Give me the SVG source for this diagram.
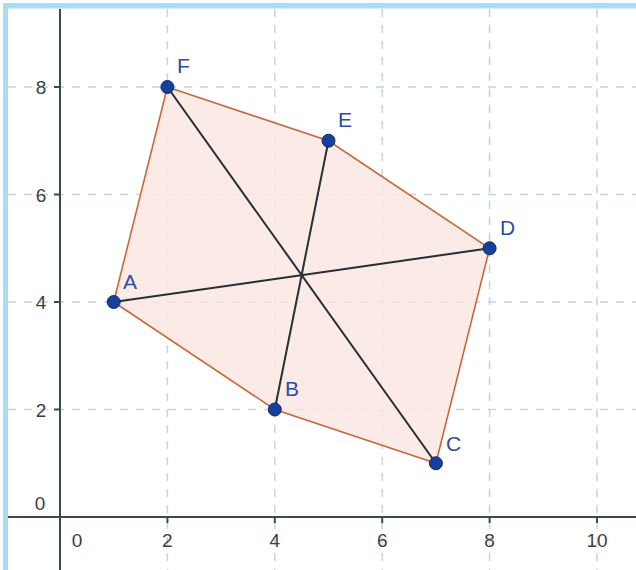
<svg xmlns="http://www.w3.org/2000/svg" width="636" height="570" viewBox="0 0 636 570">
<style>
.grid{stroke:#c9d3da;stroke-width:1.5;stroke-dasharray:8 8;fill:none}
.axis{stroke:#3a4a4f;stroke-width:2;fill:none}
.tick{font-family:"Liberation Sans",Arial,sans-serif;font-size:19px;fill:#3a3f42;text-anchor:middle}
.lbl{font-family:"Liberation Sans",Arial,sans-serif;font-size:21px;fill:#2a4ea6}
.poly{fill:#fbe6e2;fill-opacity:0.85;stroke:#c8673f;stroke-width:1.6}
.diag{stroke:#262f33;stroke-width:2}
.pt{fill:#17409a;stroke:#0d2a66;stroke-width:1}
.frame{fill:#a9dcf6}
</style>
<rect width="636" height="570" fill="#ffffff"/>
<g id="grid">
<line class="grid" x1="167.4" y1="9" x2="167.4" y2="570"/>
<line class="grid" x1="274.8" y1="9" x2="274.8" y2="570"/>
<line class="grid" x1="382.2" y1="9" x2="382.2" y2="570"/>
<line class="grid" x1="489.6" y1="9" x2="489.6" y2="570"/>
<line class="grid" x1="597" y1="9" x2="597" y2="570"/>
<line class="grid" x1="8" y1="87" x2="636" y2="87"/>
<line class="grid" x1="8" y1="194.5" x2="636" y2="194.5"/>
<line class="grid" x1="8" y1="302" x2="636" y2="302"/>
<line class="grid" x1="8" y1="409.5" x2="636" y2="409.5"/>
</g>
<g id="axes">
<line class="axis" x1="60" y1="9" x2="60" y2="570"/>
<line class="axis" x1="8" y1="517" x2="636" y2="517"/>
<path class="axis" d="M54 87H60M54 194.5H60M54 302H60M54 409.5H60M167.4 517V523M274.8 517V523M382.2 517V523M489.6 517V523M597 517V523"/>
<text class="tick" x="41" y="94">8</text>
<text class="tick" x="41" y="201.5">6</text>
<text class="tick" x="41" y="309">4</text>
<text class="tick" x="41" y="416.5">2</text>
<text class="tick" x="40" y="510">0</text>
<text class="tick" x="77" y="547">0</text>
<text class="tick" x="167.4" y="547">2</text>
<text class="tick" x="274.8" y="547">4</text>
<text class="tick" x="382.2" y="547">6</text>
<text class="tick" x="489.6" y="547">8</text>
<text class="tick" x="597" y="547">10</text>
</g>
<g id="polygon">
<polygon class="poly" points="113.7,302 274.8,409.5 435.9,463.25 489.6,248.25 328.5,140.75 167.4,87"/>
</g>
<g id="connectors">
<line class="diag" x1="113.7" y1="302" x2="489.6" y2="248.25"/>
<line class="diag" x1="274.8" y1="409.5" x2="328.5" y2="140.75"/>
<line class="diag" x1="435.9" y1="463.25" x2="167.4" y2="87"/>
</g>
<g id="A"><circle class="pt" cx="113.7" cy="302" r="6.5"/><text class="lbl" x="123" y="289">A</text></g>
<g id="B"><circle class="pt" cx="274.8" cy="409.5" r="6.5"/><text class="lbl" x="285" y="396">B</text></g>
<g id="C"><circle class="pt" cx="435.9" cy="463.25" r="6.5"/><text class="lbl" x="446" y="451">C</text></g>
<g id="D"><circle class="pt" cx="489.6" cy="248.25" r="6.5"/><text class="lbl" x="500" y="235">D</text></g>
<g id="E"><circle class="pt" cx="328.5" cy="140.75" r="6.5"/><text class="lbl" x="338" y="127">E</text></g>
<g id="F"><circle class="pt" cx="167.4" cy="87" r="6.5"/><text class="lbl" x="177" y="73">F</text></g>
<g id="frame">
<rect class="frame" x="3" y="3" width="633" height="5.5"/>
<rect class="frame" x="3" y="3" width="5" height="567"/>
</g>
</svg>
